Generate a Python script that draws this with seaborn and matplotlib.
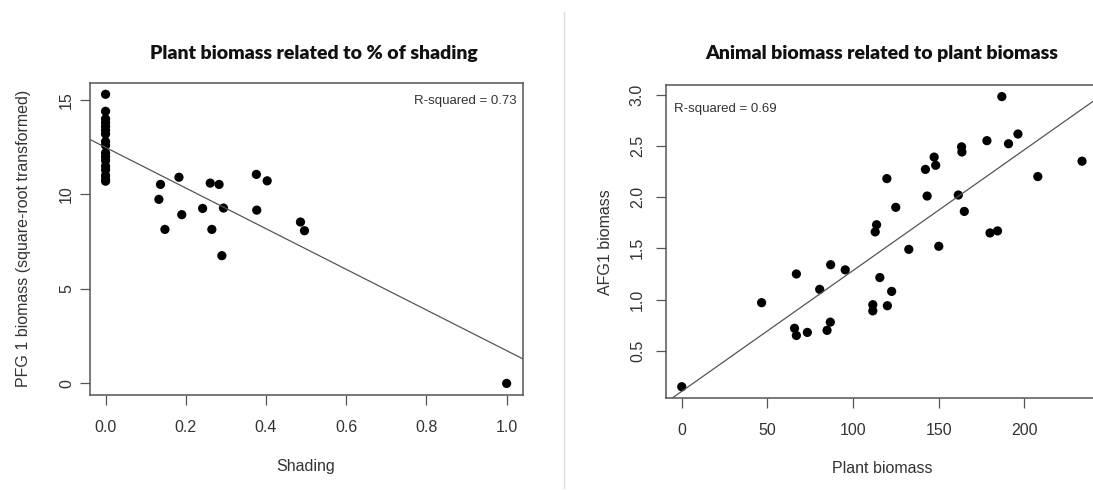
import numpy as np
import pandas as pd
import matplotlib
matplotlib.use("Agg")
import matplotlib.pyplot as plt
import seaborn as sns
from matplotlib.lines import Line2D

# left panel: shading vs PFG 1 biomass (sqrt transformed)
shading = [0.0, 0.0, 0.0, 0.0, 0.0, 0.0, 0.0, 0.0, 0.0, 0.0, 0.0, 0.0, 0.0, 0.0, 0.0, 0.0, 0.0,
           0.137, 0.183, 0.133, 0.148, 0.19, 0.242, 0.261, 0.283, 0.265, 0.294, 0.29,
           0.376, 0.403, 0.377, 0.486, 0.496, 1.0]
pfg1_biomass = [15.3, 14.4, 14.0, 13.8, 13.6, 13.4, 13.2, 12.8, 12.6, 12.2, 12.0, 11.8, 11.5, 11.3, 11.0, 10.8, 10.7,
                10.53, 10.91, 9.74, 8.15, 8.93, 9.26, 10.6, 10.53, 8.15, 9.28, 6.76,
                11.06, 10.72, 9.17, 8.54, 8.08, 0.0]

# right panel: plant biomass vs AFG1 biomass
plant_biomass = [0, 46.6, 66.9, 65.8, 66.9, 73.3, 80.5, 86.9, 84.8, 86.7, 95.4,
                 111.5, 111.5, 115.6, 112.9, 113.7, 119.7, 120.0, 122.5, 124.9, 132.5,
                 142.2, 143.2, 147.3, 148.2, 150.0, 161.4, 163.3, 163.5, 164.9,
                 178.1, 179.9, 184.3, 186.8, 190.7, 196.2, 207.8, 233.6]
afg1_biomass = [0.15, 0.97, 1.25, 0.72, 0.65, 0.68, 1.10, 1.34, 0.70, 0.78, 1.29,
                0.95, 0.89, 1.215, 1.66, 1.73, 2.18, 0.94, 1.08, 1.90, 1.49,
                2.27, 2.01, 2.39, 2.31, 1.52, 2.02, 2.49, 2.44, 1.86,
                2.55, 1.65, 1.67, 2.98, 2.52, 2.615, 2.20, 2.35]

left_df = pd.DataFrame({"Shading": shading, "PFG1": pfg1_biomass})
right_df = pd.DataFrame({"Plant": plant_biomass, "AFG1": afg1_biomass})

sns.set_theme(style="ticks")
plt.rcParams["font.family"] = ["Liberation Sans", "DejaVu Sans"]

text_col = "#333333"
box_col = "#555555"

fig = plt.figure(figsize=(10.93, 4.9), dpi=100)
ax1 = fig.add_axes([0.0819, 0.1939, 0.3963, 0.6373])
ax2 = fig.add_axes([0.6091, 0.1871, 0.3955, 0.6394])

pt_kws = {"s": 44, "color": "black", "edgecolor": "none", "alpha": 1}
ln_kws = {"color": "#555555", "linewidth": 0.9}

# R-style 4% padding
ax1.set_xlim(-0.04, 1.04)
ax1.set_ylim(-0.612, 15.912)
sns.regplot(data=left_df, x="Shading", y="PFG1", ax=ax1, ci=None, truncate=False,
            scatter_kws=pt_kws, line_kws=ln_kws)
ax1.set_xlim(-0.04, 1.04)
ax1.set_ylim(-0.612, 15.912)

ax2.set_xlim(-9.34, 242.94)
ax2.set_ylim(0.037, 3.093)
sns.regplot(data=right_df, x="Plant", y="AFG1", ax=ax2, ci=None, truncate=False,
            scatter_kws=pt_kws, line_kws=ln_kws)
ax2.set_xlim(-9.34, 242.94)
ax2.set_ylim(0.037, 3.093)

ax1.set_xticks([0.0, 0.2, 0.4, 0.6, 0.8, 1.0])
ax1.set_xticklabels(["0.0", "0.2", "0.4", "0.6", "0.8", "1.0"])
ax1.set_yticks([0, 5, 10, 15])
ax2.set_xticks([0, 50, 100, 150, 200])
ax2.set_yticks([0.5, 1.0, 1.5, 2.0, 2.5, 3.0])
ax2.set_yticklabels(["0.5", "1.0", "1.5", "2.0", "2.5", "3.0"])

for ax in (ax1, ax2):
    for sp in ax.spines.values():
        sp.set_visible(True)
        sp.set_color(box_col)
        sp.set_linewidth(1.1)
    ax.tick_params(axis="both", direction="out", length=7, width=0.9, color=box_col,
                   labelsize=11.5, labelcolor=text_col)
    ax.tick_params(axis="x", pad=11)
    ax.tick_params(axis="y", labelrotation=90)
    for lab in ax.get_yticklabels():
        lab.set_va("center")
    ax.grid(False)

ax1.tick_params(axis="y", pad=4)
ax2.tick_params(axis="y", pad=8)

ax1.set_xlabel("Shading", fontsize=11.5, color=text_col, labelpad=17)
ax1.set_ylabel("PFG 1 biomass (square-root transformed)", fontsize=11.5, color=text_col, labelpad=20)
ax2.set_xlabel("Plant biomass", fontsize=11.5, color=text_col, labelpad=16)
ax2.set_ylabel("AFG1 biomass", fontsize=11.5, color=text_col, labelpad=12)

title_font = {"family": ["Lato", "DejaVu Sans"], "weight": "heavy", "size": 14, "color": "#111111"}
ax1.set_title("Plant biomass related to % of shading", fontdict=title_font, x=0.518, pad=17)
ax2.set_title("Animal biomass related to plant biomass", fontdict=title_font, pad=19)

ax1.text(0.985, 0.94, "R-squared = 0.73", transform=ax1.transAxes, ha="right", va="center",
         fontsize=9.5, color=text_col)
ax2.text(0.02, 0.925, "R-squared = 0.69", transform=ax2.transAxes, ha="left", va="center",
         fontsize=9.5, color=text_col)

# thin divider between the two panels
fig.add_artist(Line2D([0.516, 0.516], [0.004, 0.976], transform=fig.transFigure,
                      color="#dddddd", linewidth=1.0))

fig.savefig("out.png", dpi=100)
